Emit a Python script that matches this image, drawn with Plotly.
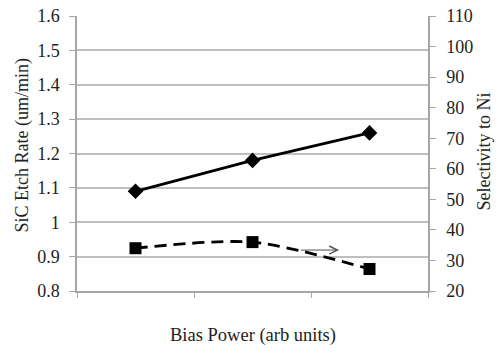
import plotly.graph_objects as go

categories = ["Low", "Medium", "High"]
etch_rate = [1.09, 1.18, 1.26]
selectivity = [34.0, 36.0, 27.2]
left_ticks = [0.8, 0.9, 1.0, 1.1, 1.2, 1.3, 1.4, 1.5, 1.6]
left_labels = ["0.8", "0.9", "1", "1.1", "1.2", "1.3", "1.4", "1.5", "1.6"]
right_ticks = [20, 30, 40, 50, 60, 70, 80, 90, 100, 110]

FONT = "Liberation Serif"
AX = "#a6a6a6"
GRID = "#bfbfbf"
TXT = "#222222"

fig = go.Figure()
fig.add_trace(go.Scatter(
    x=categories, y=etch_rate, mode="lines+markers",
    line=dict(color="black", width=2.8),
    marker=dict(symbol="diamond", size=12, color="black"),
    showlegend=False, yaxis="y", cliponaxis=False))
fig.add_trace(go.Scatter(
    x=categories, y=selectivity, mode="lines+markers",
    line=dict(color="black", width=2.8, dash="12px,7px", shape="spline", smoothing=0.8),
    marker=dict(symbol="square", size=12, color="black"),
    showlegend=False, yaxis="y2", cliponaxis=False))

fig.add_annotation(
    x=1.74, y=33.4, ax=1.40, ay=33.4, xref="x", yref="y2", axref="x", ayref="y2",
    showarrow=True, arrowhead=5, arrowsize=1.6, arrowwidth=1, arrowcolor="#555555", text="")

# axis titles
fig.add_annotation(text="SiC Etch Rate (um/min)", xref="paper", yref="paper", x=0, y=0.5,
                   xshift=-55, yshift=8, textangle=-90, showarrow=False,
                   xanchor="center", yanchor="middle", font=dict(size=18, color=TXT, family=FONT))
fig.add_annotation(text="Selectivity to Ni", xref="paper", yref="paper", x=1, y=0.5,
                   xshift=55, yshift=2, textangle=-90, showarrow=False,
                   xanchor="center", yanchor="middle", font=dict(size=18, color=TXT, family=FONT))
fig.add_annotation(text="Bias Power (arb units)", xref="paper", yref="paper", x=0.5, y=0,
                   yshift=-44, showarrow=False,
                   xanchor="center", yanchor="middle", font=dict(size=18.5, color=TXT, family=FONT))

fig.update_layout(
    width=504, height=361,
    margin=dict(l=77, r=76, t=16, b=70, autoexpand=False),
    paper_bgcolor="white", plot_bgcolor="white",
    font=dict(family=FONT, size=18, color=TXT),
    xaxis=dict(
        type="category", range=[-0.5, 2.5], showticklabels=False, automargin=False,
        tickson="boundaries", ticks="outside", ticklen=5, tickcolor=AX,
        showline=True, linecolor=AX, linewidth=1.5, showgrid=False, zeroline=False),
    yaxis=dict(
        range=[0.8, 1.6], tickvals=left_ticks, ticktext=left_labels, automargin=False,
        ticks="outside", ticklen=6, tickcolor=AX, ticklabelstandoff=6,
        ticklabeloverflow="allow",
        showline=True, linecolor=AX, linewidth=1.5,
        showgrid=True, gridcolor=GRID, gridwidth=1.5, zeroline=False,
        tickfont=dict(size=18)),
    yaxis2=dict(
        overlaying="y", side="right", range=[20, 110], tickvals=right_ticks, automargin=False,
        ticks="outside", ticklen=6, tickcolor=AX, ticklabelstandoff=7,
        ticklabeloverflow="allow",
        showline=True, linecolor=AX, linewidth=1.5, showgrid=False, zeroline=False,
        tickfont=dict(size=18)),
)

# remove the browser's default 8px body margin so the figure sits at the page origin
fig.write_html("out.html", config={"displayModeBar": False},
               post_script="document.body.style.margin='0';")
